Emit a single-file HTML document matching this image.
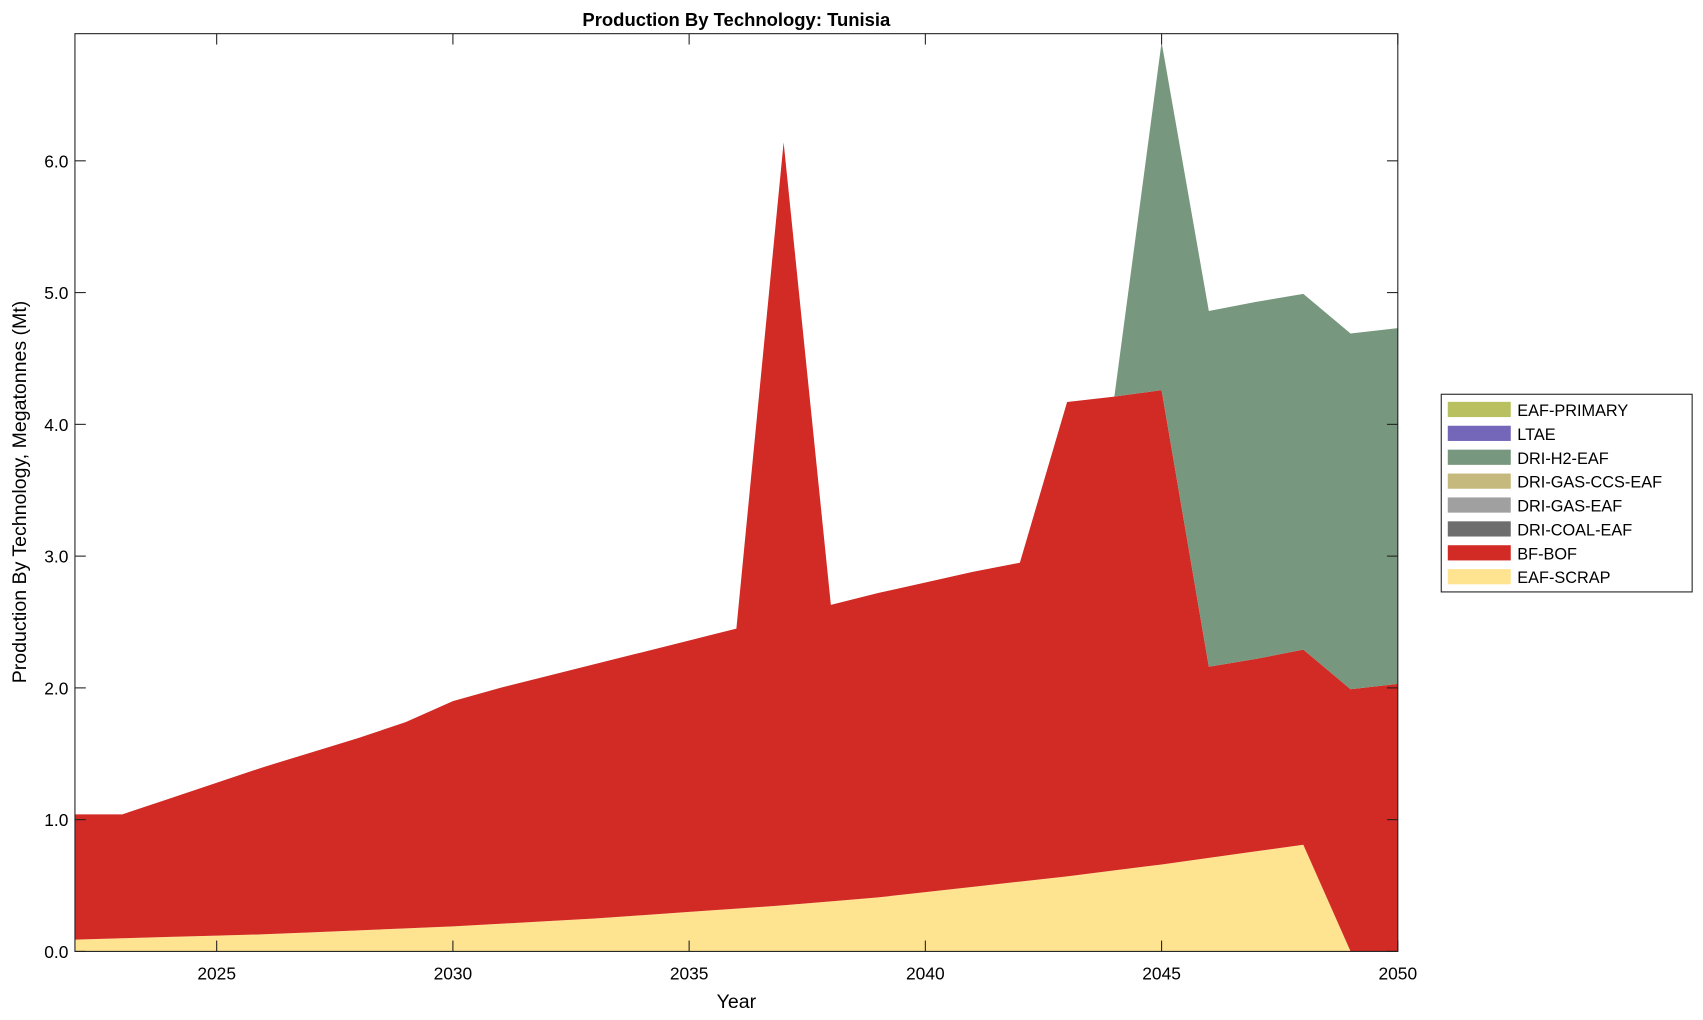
<!DOCTYPE html>
<html><head><meta charset="utf-8"><style>
body{margin:0;background:#fff;}
svg{display:block;font-family:"Liberation Sans",Arial,sans-serif;}
</style></head><body>
<svg id="chart" width="1703" height="1020">
<g transform="scale(1.0861)">
<text x="678" y="24" text-anchor="middle" font-size="17" font-weight="bold">Production By Technology: Tunisia</text>
<g id="areas"></g>
<g id="axes"></g>
<text x="678" y="928" text-anchor="middle" font-size="18">Year</text>
<text transform="translate(24,453) rotate(-90)" text-anchor="middle" font-size="18">Production By Technology, Megatonnes (Mt)</text>
<g id="legend"></g>
</g>
</svg>
<script>
const years = [];for(let y=2022;y<=2050;y++)years.push(y);
const eafScrap = [0.09,0.10,0.11,0.12,0.13,0.145,0.16,0.175,0.19,0.21,0.23,0.25,0.275,0.30,0.325,0.35,0.38,0.41,0.45,0.49,0.53,0.57,0.615,0.66,0.71,0.76,0.81,0,0];
const bfTop = [1.04,1.04,1.16,1.28,1.40,1.51,1.62,1.74,1.90,2.00,2.09,2.18,2.27,2.36,2.45,6.14,2.63,2.72,2.80,2.88,2.95,4.17,4.21,4.26,2.16,2.22,2.29,1.99,2.03];
const bfBof = bfTop.map((t,i)=>+(t-eafScrap[i]).toFixed(3));
const driH2 = [0,0,0,0,0,0,0,0,0,0,0,0,0,0,0,0,0,0,0,0,0,0,0,2.64,2.70,2.71,2.70,2.70,2.70];
const seriesNames = ["EAF-SCRAP","BF-BOF","DRI-H2-EAF"];
const seriesValues = [eafScrap,bfBof,driH2];
const seriesColors = ["#fee391","#d22a24","#77987f"];
const legendNames = ["EAF-PRIMARY","LTAE","DRI-H2-EAF","DRI-GAS-CCS-EAF","DRI-GAS-EAF","DRI-COAL-EAF","BF-BOF","EAF-SCRAP"];
const legendColors = ["#b8c05f","#7466b8","#77987f","#c5b97d","#a0a0a0","#6e6e6e","#d22a24","#fee391"];
const xTicks = [2025,2030,2035,2040,2045,2050];
const yTicks = [0,1,2,3,4,5,6];

const L=69,R=1287,T=31,B=876,YMAX=6.965;
const xs=y=>L+(y-2022)/(2050-2022)*(R-L);
const ys=v=>B-v/YMAX*(B-T);
const NS="http://www.w3.org/2000/svg";
function mk(t,a,p){const e=document.createElementNS(NS,t);for(const k in a)e.setAttribute(k,a[k]);p.appendChild(e);return e;}
const areas=document.getElementById('areas');
let base=years.map(()=>0);
seriesValues.forEach((vals,si)=>{
  const top=base.map((b,i)=>b+vals[i]);
  let d="M"+years.map((y,i)=>xs(y)+","+ys(top[i])).join("L");
  for(let i=years.length-1;i>=0;i--)d+="L"+xs(years[i])+","+ys(base[i]);
  const p=mk('path',{d:d+"Z",fill:seriesColors[si]},areas);
  
  
  base=top;
});
const ax=document.getElementById('axes');
const fr=mk('rect',{x:L,y:T,width:R-L,height:B-T,fill:"none",stroke:"#222","stroke-width":1},ax);


xTicks.forEach(t=>{
  const x=xs(t);
  mk('line',{x1:x,x2:x,y1:B,y2:B-10,stroke:"#222"},ax);
  mk('line',{x1:x,x2:x,y1:T,y2:T+10,stroke:"#222"},ax);
  const tx=mk('text',{x:x,y:B+26,"text-anchor":"middle","font-size":16},ax);
  tx.textContent=t;
  
  
});
yTicks.forEach(t=>{
  const y=ys(t);
  mk('line',{x1:L,x2:L+10,y1:y,y2:y,stroke:"#222"},ax);
  mk('line',{x1:R,x2:R-10,y1:y,y2:y,stroke:"#222"},ax);
  const tx=mk('text',{x:L-6,y:y+6,"text-anchor":"end","font-size":16},ax);
  tx.textContent=t.toFixed(1);
  
  
});
const lg=document.getElementById('legend');
const lb=mk('rect',{x:1327,y:363,width:231,height:182,fill:"#fff",stroke:"#222"},lg);


legendNames.forEach((n,i)=>{
  const y=377+i*22;
  const s=mk('rect',{x:1333,y:y-7,width:58,height:14,fill:legendColors[i]},lg);
  
  
  const t=mk('text',{x:1397,y:y+6,"font-size":15},lg);
  t.textContent=n;
  
  
});
</script>
</body></html>
